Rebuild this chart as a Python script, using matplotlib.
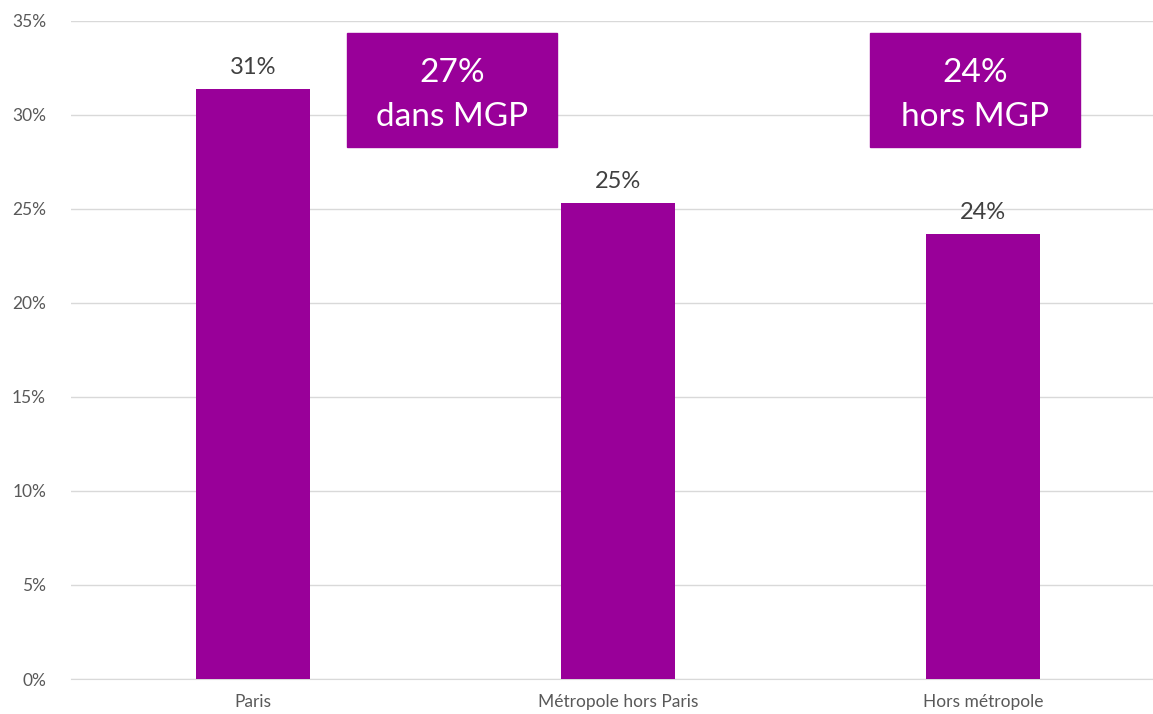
"""Part des ménages par zone - bar chart."""
import matplotlib.pyplot as plt
from matplotlib.patches import Rectangle

plt.rcParams['font.family'] = ['Lato', 'DejaVu Sans']

categories = ['Paris', 'Métropole hors Paris', 'Hors métropole']
values = [31.35, 25.3, 23.65]
value_labels = ['31%', '25%', '24%']
yticks = [0, 5, 10, 15, 20, 25, 30, 35]
box_texts = ['27%\ndans MGP', '24%\nhors MGP']
box_centers = [0.545, 1.979]

purple = '#990099'
grid_col = '#d9d9d9'
text_col = '#595959'

fig = plt.figure(figsize=(11.53, 7.14), dpi=100)
ax = fig.add_axes([71 / 1153, 0.049, (1153 - 71) / 1153, 0.922])

x = list(range(len(categories)))
bars = ax.bar(x, values, width=0.312, color=purple, zorder=3)

for b, lab in zip(bars, value_labels):
    ax.annotate(lab, (b.get_x() + b.get_width() / 2, b.get_height()),
                xytext=(0, 8), textcoords='offset points',
                ha='center', va='bottom', fontsize=17, color='#404040')

# annotation boxes
for cx, txt in zip(box_centers, box_texts):
    ax.add_patch(Rectangle((cx - 0.2875, 28.27), 0.575, 6.1,
                           color=purple, zorder=4, clip_on=False))
    ax.text(cx, 31.05, txt, ha='center', va='center', color='white',
            fontsize=24, linespacing=1.6, zorder=5)

ax.set_xlim(-0.4986, 2.466)
ax.set_ylim(0, 35)
ax.set_yticks(yticks)
ax.set_yticklabels([f'{t}%' for t in yticks])
ax.set_xticks(x)
ax.set_xticklabels(categories)
ax.yaxis.grid(True, color=grid_col, linewidth=1, zorder=0)
ax.tick_params(axis='both', length=0, colors=text_col, labelsize=12.5)
ax.tick_params(axis='y', pad=18)
ax.tick_params(axis='x', pad=11)
for s in ax.spines.values():
    s.set_visible(False)
ax.spines['bottom'].set_visible(True)
ax.spines['bottom'].set_color(grid_col)

plt.savefig('out.png', dpi=100)
plt.close()
